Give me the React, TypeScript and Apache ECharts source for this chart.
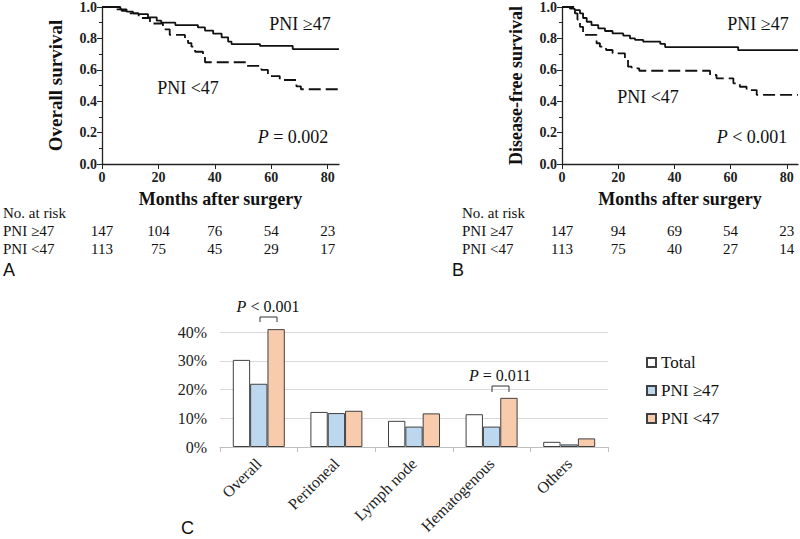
import React, { useEffect, useRef } from "react";
import * as echarts from "echarts";

// ---- Data ----
const monthTicks = [0, 20, 40, 60, 80];

// Overall survival (A)
const osHighT = [0, 6.5, 8.7, 11, 12.8, 16.3, 19.4, 21, 26, 34, 36.5, 39.4, 42.4, 44.7, 45.9, 56, 67.6, 84];
const osHighS = [1.0, 0.985, 0.97, 0.96, 0.955, 0.934, 0.913, 0.9, 0.885, 0.87, 0.85, 0.83, 0.807, 0.78, 0.764, 0.752, 0.732, 0.732];
const osLowT = [0, 4.6, 7, 9.2, 13, 17, 21.6, 24, 29.4, 30.5, 31.7, 33, 35.8, 36.5, 51, 56.5, 58.8, 63, 68.9, 70.5, 84];
const osLowS = [1.0, 0.985, 0.975, 0.96, 0.93, 0.895, 0.858, 0.822, 0.8, 0.77, 0.747, 0.715, 0.683, 0.648, 0.625, 0.6, 0.56, 0.535, 0.495, 0.476, 0.476];

// Disease-free survival (B)
const dfsHighT = [0, 2.8, 4.5, 6.4, 7.5, 8.8, 10.5, 12.9, 15.3, 18, 21.8, 24.2, 26, 28.9, 35, 36.7, 62.7, 84];
const dfsHighS = [1.0, 0.99, 0.98, 0.96, 0.93, 0.906, 0.885, 0.864, 0.847, 0.832, 0.818, 0.8, 0.79, 0.779, 0.765, 0.745, 0.725, 0.725];
const dfsLowT = [0, 4.6, 5.5, 6.4, 7.5, 12.3, 13.5, 15.7, 18, 22.4, 23.5, 24.8, 27.5, 52.7, 55, 61, 63.3, 65.7, 69.3, 84];
const dfsLowS = [1.0, 0.96, 0.92, 0.874, 0.822, 0.769, 0.747, 0.726, 0.705, 0.673, 0.62, 0.609, 0.594, 0.567, 0.546, 0.514, 0.492, 0.471, 0.44, 0.44];

// Numbers at risk
const riskAHigh = [147, 104, 76, 54, 23];
const riskALow = [113, 75, 45, 29, 17];
const riskBHigh = [147, 94, 69, 54, 23];
const riskBLow = [113, 75, 40, 27, 14];

// Recurrence (C)
const sites = ["Overall", "Peritoneal", "Lymph node", "Hematogenous", "Others"];
const totalPct = [30.3, 12.2, 9.1, 11.4, 1.8];
const highPct = [22.0, 11.8, 7.1, 7.1, 0.9];
const lowPct = [41.0, 12.6, 11.7, 17.1, 3.0];

const SERIF = "'Liberation Serif', 'Times New Roman', serif";
const SANS = "'Liberation Sans', Arial, sans-serif";

const zip = (t: number[], s: number[]) => t.map((v, i) => [v, s[i]]);

function kmXAxis(gridIndex: number) {
  return {
    type: "value",
    gridIndex,
    min: 0,
    max: 84,
    name: "Months after surgery",
    nameLocation: "middle",
    nameGap: 26,
    nameTextStyle: { fontFamily: SERIF, fontSize: 18, fontWeight: "bold", color: "#111" },
    axisLine: { show: true, lineStyle: { color: "#222", width: 1.3 } },
    axisTick: { show: true, customValues: monthTicks, length: 5, lineStyle: { color: "#222", width: 1 } },
    axisLabel: { customValues: monthTicks, fontFamily: SERIF, fontSize: 14, fontWeight: "bold", color: "#222", margin: 6 },
    splitLine: { show: false },
  };
}

function kmYAxis(gridIndex: number, name: string, size: number) {
  return {
    type: "value",
    gridIndex,
    min: 0,
    max: 1,
    interval: 0.2,
    name,
    nameLocation: "middle",
    nameGap: 37,
    nameTextStyle: { fontFamily: SERIF, fontSize: size, fontWeight: "bold", color: "#111" },
    axisLine: { show: true, lineStyle: { color: "#222", width: 1.3 } },
    axisTick: { show: true, length: 5, lineStyle: { color: "#222", width: 1 } },
    minorTick: { show: true, splitNumber: 2, length: 3, lineStyle: { color: "#222", width: 1 } },
    axisLabel: {
      fontFamily: SERIF,
      fontSize: 14,
      fontWeight: "bold",
      color: "#222",
      margin: 5,
      formatter: (v: number) => v.toFixed(1),
    },
    splitLine: { show: false },
  };
}

function kmLine(x: number, t: number[], s: number[], dashed: boolean) {
  return {
    type: "line",
    xAxisIndex: x,
    yAxisIndex: x,
    step: "end",
    symbol: "none",
    data: zip(t, s),
    lineStyle: { color: "#111", width: 1.8, type: dashed ? [12, 5] : "solid" },
    silent: true,
  };
}

function txt(x: number, y: number, text: string, size: number, extra: any = {}) {
  return {
    type: "text",
    x,
    y,
    silent: true,
    style: {
      text,
      fontFamily: SERIF,
      fontSize: size,
      fill: "#111",
      align: "center",
      verticalAlign: "middle",
      ...extra,
    },
  };
}

function pText(x: number, y: number, rest: string, size: number) {
  return {
    type: "text",
    x,
    y,
    silent: true,
    style: {
      text: "{i|P}" + rest,
      fontFamily: SERIF,
      fontSize: size,
      fill: "#111",
      align: "center",
      verticalAlign: "middle",
      rich: {
        i: { fontFamily: SERIF, fontSize: size, fontStyle: "italic", fill: "#111" },
      },
    },
  };
}

export default function App() {
  const ref = useRef<HTMLDivElement>(null);

  useEffect(() => {
    if (!ref.current) return;
    const chart = echarts.init(ref.current, null, { renderer: "svg" });

    const option: any = {
      animation: false,
      backgroundColor: "#fff",
      grid: [
        { left: 102, top: 7, width: 237, height: 157, outerBoundsMode: "none", containLabel: false },
        { left: 562, top: 7, width: 236, height: 157, outerBoundsMode: "none", containLabel: false },
        { left: 220, top: 332, width: 388, height: 115, outerBoundsMode: "none", containLabel: false },
      ],
      xAxis: [
        kmXAxis(0),
        kmXAxis(1),
        {
          type: "category",
          gridIndex: 2,
          data: sites,
          axisLine: { show: true, lineStyle: { color: "#bfbfbf", width: 1 } },
          axisTick: { show: true, alignWithLabel: false, length: 5, lineStyle: { color: "#bfbfbf" } },
          axisLabel: { rotate: 45, interval: 0, fontFamily: SERIF, fontSize: 16, color: "#222", margin: 14 },
        },
      ],
      yAxis: [
        kmYAxis(0, "Overall survival", 19),
        kmYAxis(1, "Disease-free survival", 18),
        {
          type: "value",
          gridIndex: 2,
          min: 0,
          max: 40,
          interval: 10,
          axisLine: { show: false },
          axisTick: { show: false },
          axisLabel: { formatter: "{value}%", fontFamily: SERIF, fontSize: 16, color: "#222", margin: 13 },
          splitLine: { show: true, lineStyle: { color: "#d9d9d9", width: 1 } },
        },
      ],
      legend: {
        orient: "vertical",
        left: 641,
        top: 349,
        icon: "rect",
        itemWidth: 9,
        itemHeight: 9,
        itemGap: 11,
        data: ["Total", "PNI ≥47", "PNI <47"],
        textStyle: { fontFamily: SERIF, fontSize: 17, color: "#111" },
      },
      series: [
        kmLine(0, osHighT, osHighS, false),
        kmLine(0, osLowT, osLowS, true),
        kmLine(1, dfsHighT, dfsHighS, false),
        kmLine(1, dfsLowT, dfsLowS, true),
        {
          type: "bar",
          name: "Total",
          xAxisIndex: 2,
          yAxisIndex: 2,
          data: totalPct,
          barGap: "0%",
          barCategoryGap: "33%",
          clip: false,
          itemStyle: { color: "#ffffff", borderColor: "#404040", borderWidth: 1 },
        },
        {
          type: "bar",
          name: "PNI ≥47",
          xAxisIndex: 2,
          yAxisIndex: 2,
          data: highPct,
          barGap: "0%",
          barCategoryGap: "33%",
          clip: false,
          itemStyle: { color: "#bdd7ee", borderColor: "#404040", borderWidth: 1 },
        },
        {
          type: "bar",
          name: "PNI <47",
          xAxisIndex: 2,
          yAxisIndex: 2,
          data: lowPct,
          barGap: "0%",
          barCategoryGap: "33%",
          clip: false,
          itemStyle: { color: "#f8cbad", borderColor: "#404040", borderWidth: 1 },
        },
      ],
    };

    chart.setOption(option);

    const xA = monthTicks.map((m) => chart.convertToPixel({ xAxisIndex: 0 }, m) as number);
    const xB = monthTicks.map((m) => chart.convertToPixel({ xAxisIndex: 1 }, m) as number);

    const graphics: any[] = [];
    // KM annotations
    graphics.push(txt(300, 24, "PNI ≥47", 18));
    graphics.push(txt(188, 88, "PNI <47", 18));
    graphics.push(pText(293, 137, " = 0.002", 18));
    graphics.push(txt(758, 24, "PNI ≥47", 18));
    graphics.push(txt(648, 97, "PNI <47", 18));
    graphics.push(pText(752, 137, " < 0.001", 18));

    // Risk tables
    const tbl = (x0: number, xs: number[], hi: number[], lo: number[]) => {
      graphics.push(txt(x0, 213, "No. at risk", 15, { align: "left" }));
      graphics.push(txt(x0, 231, "PNI ≥47", 15, { align: "left" }));
      graphics.push(txt(x0, 249, "PNI <47", 15, { align: "left" }));
      xs.forEach((x, i) => {
        graphics.push(txt(x, 231, String(hi[i]), 15));
        graphics.push(txt(x, 249, String(lo[i]), 15));
      });
    };
    tbl(3, xA, riskAHigh, riskALow);
    tbl(462, xB, riskBHigh, riskBLow);

    // Panel letters
    graphics.push(txt(3, 270, "A", 18, { align: "left", fontFamily: SANS }));
    graphics.push(txt(452, 270, "B", 18, { align: "left", fontFamily: SANS }));
    graphics.push(txt(181, 528, "C", 18, { align: "left", fontFamily: SANS }));

    // Bar chart P-value annotations
    graphics.push(pText(268, 306, " < 0.001", 16));
    graphics.push({
      type: "polyline",
      silent: true,
      shape: { points: [[260, 322], [260, 317], [277, 317], [277, 322]] },
      style: { stroke: "#333", lineWidth: 1, fill: "none" },
    });
    graphics.push(pText(500, 375, " = 0.011", 16));
    graphics.push({
      type: "polyline",
      silent: true,
      shape: { points: [[492, 392], [492, 386], [509, 386], [509, 392]] },
      style: { stroke: "#333", lineWidth: 1, fill: "none" },
    });

    chart.setOption({ graphic: graphics });

    return () => {
      chart.dispose();
    };
  }, []);

  return (
    <div
      ref={ref}
      style={{ position: "fixed", left: 0, top: 0, width: 800, height: 539, background: "#fff" }}
    />
  );
}
